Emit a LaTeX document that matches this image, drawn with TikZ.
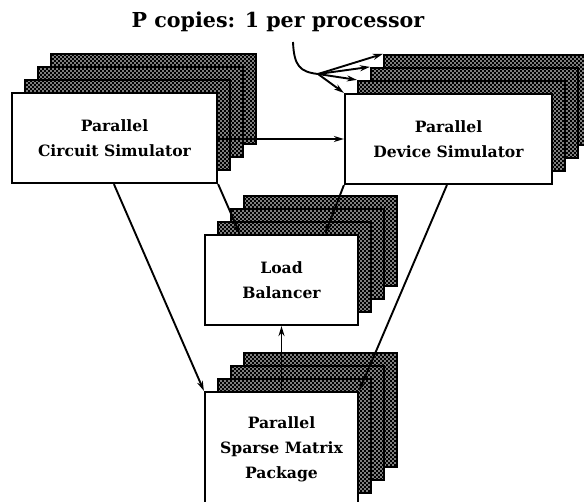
\documentclass[tikz,border=0pt]{standalone}
\usepackage{fontspec}
\setmainfont{DejaVu Serif}
\usetikzlibrary{arrows.meta,patterns,calc}
\pgfdeclarepatternformonly{halftone}{\pgfpoint{-0.1pt}{-0.1pt}}{\pgfpoint{4.1pt}{4.1pt}}{\pgfpoint{4pt}{4pt}}{%
  \pgfpathcircle{\pgfpoint{1pt}{1pt}}{0.8pt}%
  \pgfpathcircle{\pgfpoint{3pt}{3pt}}{0.8pt}%
  \pgfusepath{fill}}
\newcommand\boxfont{\fontsize{15.6}{25}\selectfont\bfseries}
\newcommand\titlefont{\fontsize{20.6}{25}\selectfont\bfseries}
\tikzset{
  layer/.style={preaction={fill=black}, pattern=halftone, pattern color=white,
    draw, line width=2.2pt, inner sep=0pt},
  front/.style={draw, line width=2.2pt, fill=white, inner sep=0pt, align=center, font=\boxfont},
  conn/.style={line width=1.9pt, -{Stealth[length=10pt,width=6pt]}},
  plain/.style={line width=1.9pt}
}
\newcommand\mystack[6]{%
  \foreach \k in {3,2,1}{
    \node[layer, minimum width=#4pt, minimum height=#5pt] (#1-\k) at ({#2+13*\k},{#3-13*\k}) {};
  }
  \node[front, minimum width=#4pt, minimum height=#5pt] (#1) at (#2,#3) {#6};
}
\begin{document}
\begin{tikzpicture}[x=1pt,y=-1pt]
\useasboundingbox (0,0) rectangle (584,502);
\clip (0,0) rectangle (584,502);
\node[font=\titlefont, anchor=base] (title) at (278,28) {P copies: 1 per processor};
\mystack{cs}{114.5}{138}{205}{90}{Parallel\\Circuit Simulator}
\mystack{ds}{448.5}{139}{207}{90}{Parallel\\Device Simulator}
\mystack{lb}{281.5}{280}{153}{90}{Load\\Balancer}
\mystack{sm}{281.5}{449}{153}{114}{Parallel\\Sparse Matrix\\Package}
% connectors
\draw[conn] (ds.west -| cs.east) -- (ds.west);
\draw[conn] (cs.south east) -- ($(lb.north west)+(36,0)$);
\draw[conn] (ds.south west) -- ($(lb.north east)+(-34,0)$);
\draw[conn] ($(cs.south west)+(103,0)$) -- (sm.north west);
\draw[conn] ($(ds.south west)+(103,0)$) -- (sm.north east);
\draw[conn] (sm.north) -- (lb.south);
% copies annotation
\coordinate (tail) at (293,42);
\coordinate (fan) at (318,74);
\draw[plain] (tail) .. controls (294,66) and (300,72) .. (fan);
\foreach \k in {1,2,3} \draw[conn] (fan) -- (ds-\k.north west);
\draw[conn] (fan) -- (ds.north west);
\end{tikzpicture}
\end{document}
